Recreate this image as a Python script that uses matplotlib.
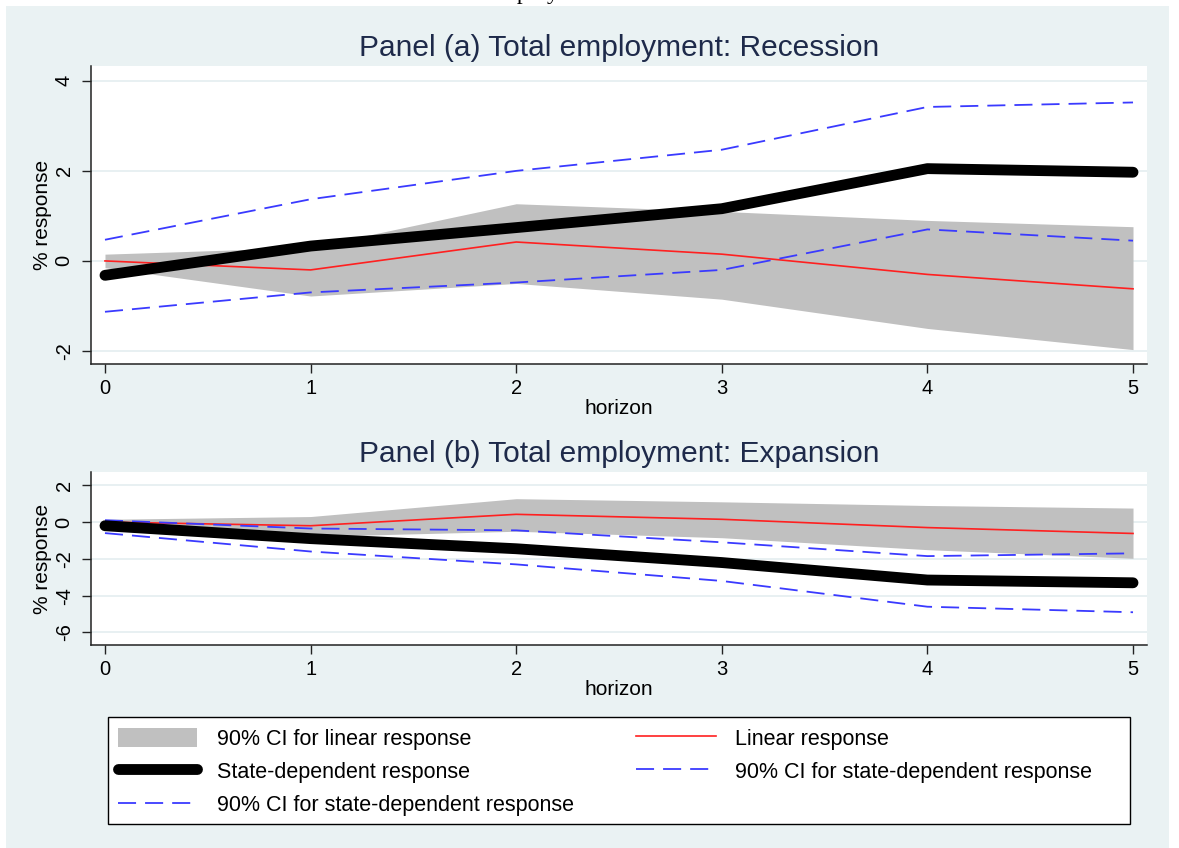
import numpy as np
import matplotlib
matplotlib.use("Agg")
import matplotlib.pyplot as plt
from matplotlib.lines import Line2D
from matplotlib.patches import Patch, Rectangle

plt.rcParams['font.family'] = ['Liberation Sans', 'DejaVu Sans']
plt.rcParams['axes.unicode_minus'] = False

# Data
horizon = [0, 1, 2, 3, 4, 5]

# linear response and its 90% CI (same in both panels)
linear = [0.0, -0.2, 0.42, 0.15, -0.3, -0.62]
linear_ci_hi = [0.15, 0.3, 1.27, 1.1, 0.9, 0.76]
linear_ci_lo = [-0.15, -0.78, -0.5, -0.85, -1.5, -1.97]

# panel (a) recession
rec_state = [-0.32, 0.33, 0.74, 1.16, 2.05, 1.97]
rec_ci_hi = [0.47, 1.37, 2.0, 2.47, 3.42, 3.52]
rec_ci_lo = [-1.13, -0.7, -0.48, -0.2, 0.7, 0.45]

# panel (b) expansion
exp_state = [-0.2, -0.9, -1.45, -2.2, -3.15, -3.3]
exp_ci_hi = [0.1, -0.35, -0.45, -1.1, -1.85, -1.7]
exp_ci_lo = [-0.6, -1.6, -2.3, -3.2, -4.6, -4.9]

bg = '#EAF2F3'
grid_col = '#E4EEF0'
title_col = '#1E2A4A'
gray = '#C0C0C0'
red = '#FF2020'
blue = '#3A3AFF'

W, H = 1179, 848
fig = plt.figure(figsize=(W / 100, H / 100), dpi=100, facecolor='white')
fig.patches.append(Rectangle((6 / W, 0), 1163 / W, 842 / H, transform=fig.transFigure,
                             facecolor=bg, edgecolor='none', zorder=-10))
# clipped caption at the very top of the page (only descenders show)
fig.text(488 / W, 1 + 1 / H, 'employment', family='Liberation Serif', fontsize=17,
         va='baseline', ha='left', color='black')


def draw_panel(ax, state, ci_hi, ci_lo, title, ylim, yticks):
    ax.set_facecolor('white')
    ax.fill_between(horizon, linear_ci_lo, linear_ci_hi, color=gray, lw=0, zorder=2)
    ax.plot(horizon, linear, color=red, lw=1.2, zorder=3)
    ax.plot(horizon, ci_hi, color=blue, lw=1.3, dashes=(10, 5), zorder=4)
    ax.plot(horizon, ci_lo, color=blue, lw=1.3, dashes=(10, 5), zorder=4)
    ax.plot(horizon, state, color='black', lw=7.8, solid_capstyle='round',
            solid_joinstyle='round', zorder=5)
    ax.set_xlim(-0.068, 5.068)
    ax.set_ylim(*ylim)
    ax.set_yticks(yticks)
    ax.set_yticklabels([str(t) for t in yticks], rotation=90, va='center')
    ax.set_xticks(horizon)
    ax.grid(axis='y', color=grid_col, lw=1.2, zorder=0)
    ax.set_axisbelow(True)
    for s in ['top', 'right']:
        ax.spines[s].set_visible(False)
    for s in ['left', 'bottom']:
        ax.spines[s].set_color('#222222')
        ax.spines[s].set_linewidth(1.1)
    ax.tick_params(axis='both', direction='out', length=6.5, width=1.0,
                   labelsize=14.5, colors='#222222', labelcolor='black')
    ax.tick_params(axis='y', pad=6)
    ax.tick_params(axis='x', pad=4)
    ax.set_title(title, fontsize=21.5, color=title_col, pad=7)
    ax.set_xlabel('horizon', fontsize=15, labelpad=1)
    ax.set_ylabel('% response', fontsize=15, labelpad=2)


ax1 = fig.add_axes([91 / W, 1 - 364 / H, 1056 / W, 298 / H])
draw_panel(ax1, rec_state, rec_ci_hi, rec_ci_lo,
           'Panel (a) Total employment: Recession', (-2.29, 4.33), [-2, 0, 2, 4])

ax2 = fig.add_axes([91 / W, 1 - 645 / H, 1056 / W, 173 / H])
draw_panel(ax2, exp_state, exp_ci_hi, exp_ci_lo,
           'Panel (b) Total employment: Expansion', (-6.68, 2.72), [-6, -4, -2, 0, 2])

# legend box
fig.patches.append(Rectangle((108 / W, 1 - 824 / H), 1022 / W, 107 / H,
                             transform=fig.transFigure, facecolor='white',
                             edgecolor='black', lw=1.0, zorder=1))

handles = [
    Patch(facecolor=gray, edgecolor='none'),
    Line2D([], [], color='black', lw=7.8, solid_capstyle='round'),
    Line2D([], [], color=blue, lw=1.3, dashes=(10, 5)),
    Line2D([], [], color=red, lw=1.2),
    Line2D([], [], color=blue, lw=1.3, dashes=(10, 5)),
]
labels = [
    '90% CI for linear response',
    'State-dependent response',
    '90% CI for state-dependent response',
    'Linear response',
    '90% CI for state-dependent response',
]
leg = fig.legend(handles, labels, ncol=2, loc='upper left',
                 bbox_to_anchor=(108 / W, 1 - 718 / H), frameon=False,
                 fontsize=15.5, handlelength=3.7, handleheight=1.0,
                 handletextpad=0.9, labelspacing=0.52, columnspacing=2.9,
                 borderaxespad=0, borderpad=0.45)
leg.set_zorder(2)

fig.savefig('out.png', dpi=100, facecolor='white')
